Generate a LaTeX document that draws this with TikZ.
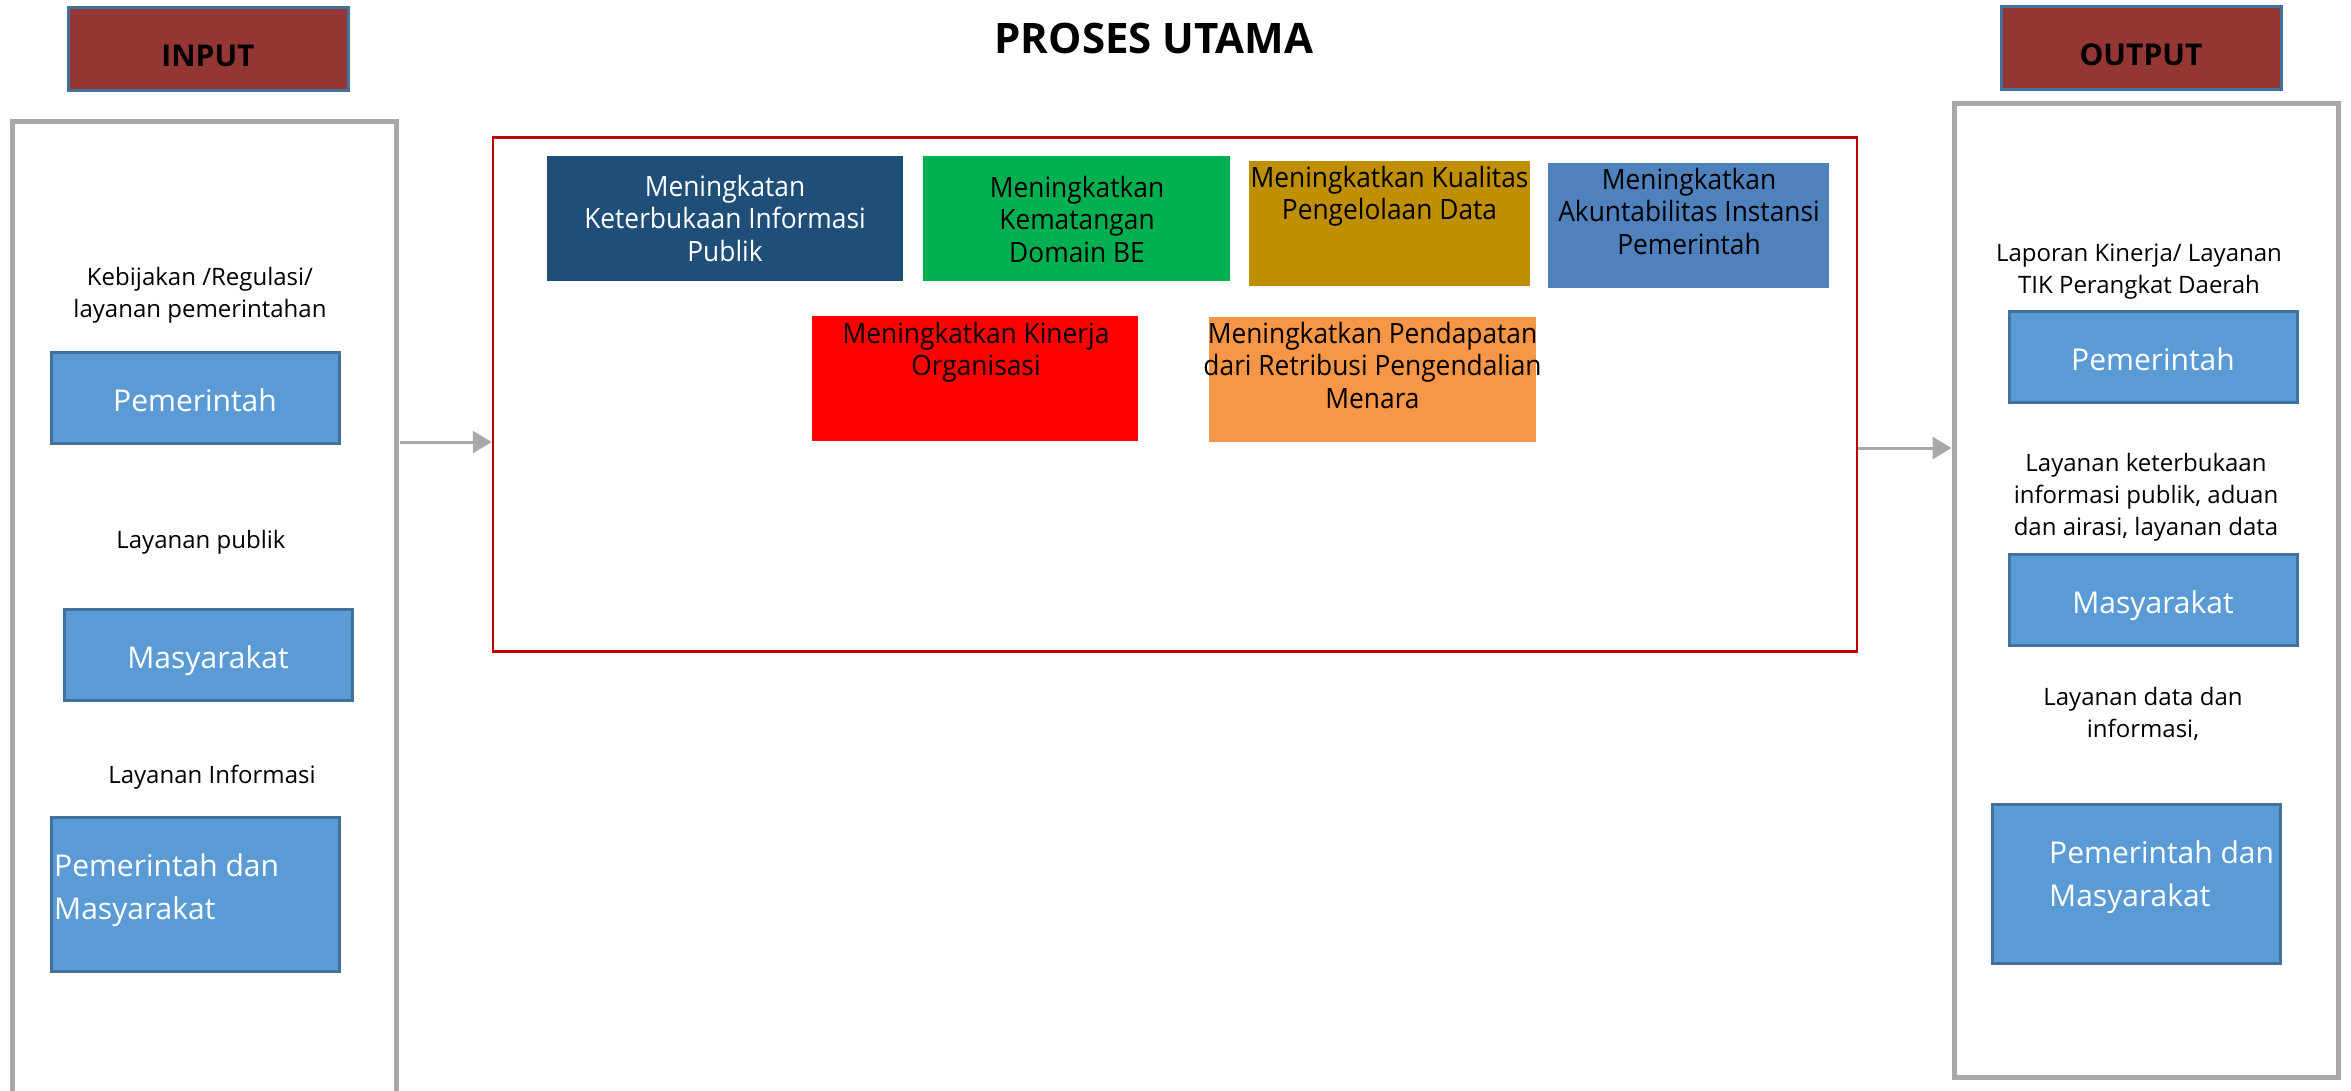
\documentclass[tikz,border=0pt]{standalone}
\usepackage{fontspec}
\setmainfont{Open Sans}
\newfontfamily\narrowfont[FakeStretch=0.94]{Open Sans}
\usetikzlibrary{positioning,arrows.meta}
\definecolor{headred}{HTML}{943634}
\definecolor{edgeblue}{HTML}{41719C}
\definecolor{fillblue}{HTML}{5B9BD5}
\definecolor{framegrey}{HTML}{A9A9A9}
\definecolor{procred}{HTML}{C00000}
\definecolor{goalnavy}{HTML}{1F4E79}
\definecolor{goalgreen}{HTML}{00B050}
\definecolor{goalgold}{HTML}{BF8F00}
\definecolor{goalblue}{HTML}{4F81BD}
\definecolor{goalred}{HTML}{FF0000}
\definecolor{goalorange}{HTML}{F79646}

\begin{document}
\begin{tikzpicture}[>={Triangle[length=19pt,width=22pt]},x=1pt,y=-1pt,
	every node/.style={shape=rectangle,inner sep=0pt},
	head/.style={draw=edgeblue,line width=3pt,fill=headred,minimum width=280pt,minimum height=83pt,
		font=\fontsize{30}{36}\selectfont\bfseries,text height=35pt,text depth=0pt},
	frame/.style={draw=framegrey,line width=5pt,minimum width=384pt},
	whobox/.style={draw=edgeblue,line width=3pt,fill=fillblue,minimum width=288pt,minimum height=91pt,
		text=white,font=\fontsize{30}{42}\selectfont,text height=28pt,text depth=0pt},
	goal/.style={minimum height=125pt},
	goaltext/.style={anchor=base,align=center,font=\narrowfont\fontsize{28}{32.5}\selectfont},
	note/.style={anchor=base,align=center,font=\fontsize{24}{32}\selectfont},
	bothtext/.style={anchor=base west,align=left,text=white,font=\fontsize{30}{43}\selectfont},
	line/.style={draw=framegrey,line width=3pt,->}]
		\useasboundingbox (0,0) rectangle (2351,1090);
		% create the nodes
		\node (title) [anchor=base,font=\fontsize{42}{50}\selectfont\bfseries] at (1154,53) {PROSES UTAMA};
		\node (inhead) [head] at (208,48.5) {INPUT};
		\node (outhead) [head] at (2141,47.5) {OUTPUT};
		
		\node (inframe) [frame,minimum height=980pt] at (204.5,611.5) {};
		\node (outframe) [frame,minimum height=974pt] at (2146,590) {};
		\node (proc) [draw=procred,line width=2.5pt,minimum width=1364pt,minimum height=514pt] at (1175,394.5) {};
		
		% input side (text nodes sit on the baseline of their last line)
		\node (innote1) [note] at (200,317) {Kebijakan /Regulasi/\\layanan pemerintahan};
		\node (ingov) [whobox] at (195,397.5) {Pemerintah};
		\node (innote2) [note] at (201,548) {Layanan publik};
		\node (inpub) [whobox] at (208,654.5) {Masyarakat};
		\node (innote3) [note] at (212,783) {Layanan Informasi};
		\node (inboth) [whobox,minimum height=154pt] at (195,894) {};
		\node (inbothtxt) [bothtext] at (54,919) {Pemerintah dan\\Masyarakat};
		
		% the goals
		\node (g1) [goal,fill=goalnavy,minimum width=356pt] at (725,218.5) {};
		\node (g2) [goal,fill=goalgreen,minimum width=307pt] at (1076.5,218.5) {};
		\node (g3) [goal,fill=goalgold,minimum width=281pt] at (1389.5,223.5) {};
		\node (g4) [goal,fill=goalblue,minimum width=281pt] at (1688.5,225.5) {};
		\node (g5) [goal,fill=goalred,minimum width=326pt] at (975,378.5) {};
		\node (g6) [goal,fill=goalorange,minimum width=327pt] at (1372.5,379.5) {};
		\node (g1txt) [goaltext,text=white] at (725,261) {Meningkatan\\Keterbukaan Informasi\\Publik};
		\node (g2txt) [goaltext] at (1077,262) {Meningkatkan\\Kematangan\\Domain BE};
		\node (g3txt) [goaltext] at (1389.5,219.5) {Meningkatkan Kualitas\\Pengelolaan Data};
		\node (g4txt) [goaltext] at (1689,254) {Meningkatkan\\Akuntabilitas Instansi\\Pemerintah};
		\node (g5txt) [goaltext] at (976,375.5) {Meningkatkan Kinerja\\Organisasi};
		\node (g6txt) [goaltext] at (1372.5,408) {Meningkatkan Pendapatan\\dari Retribusi Pengendalian\\Menara};
		
		% output side
		\node (outnote1) [note] at (2139,293) {Laporan Kinerja/ Layanan\\TIK Perangkat Daerah};
		\node (outgov) [whobox,text height=27pt] at (2153,356.5) {Pemerintah};
		\node (outnote2) [note] at (2146,535) {Layanan keterbukaan\\informasi publik, aduan\\dan airasi, layanan data};
		\node (outpub) [whobox] at (2153,599.5) {Masyarakat};
		\node (outnote3) [note] at (2143,737) {Layanan data dan\\informasi,};
		\node (outboth) [whobox,minimum height=159pt] at (2136,883.5) {};
		\node (outbothtxt) [bothtext] at (2049,906) {Pemerintah dan\\Masyarakat};
		
		% connect the nodes
		\coordinate (inarrow) at (399.5,442);
		\coordinate (outarrow) at (1858,448);
		\draw[line] (inarrow) to (inarrow -| proc.west);
		\draw[line] (outarrow) to (outarrow -| outframe.west);
		
	\end{tikzpicture}
\end{document}
